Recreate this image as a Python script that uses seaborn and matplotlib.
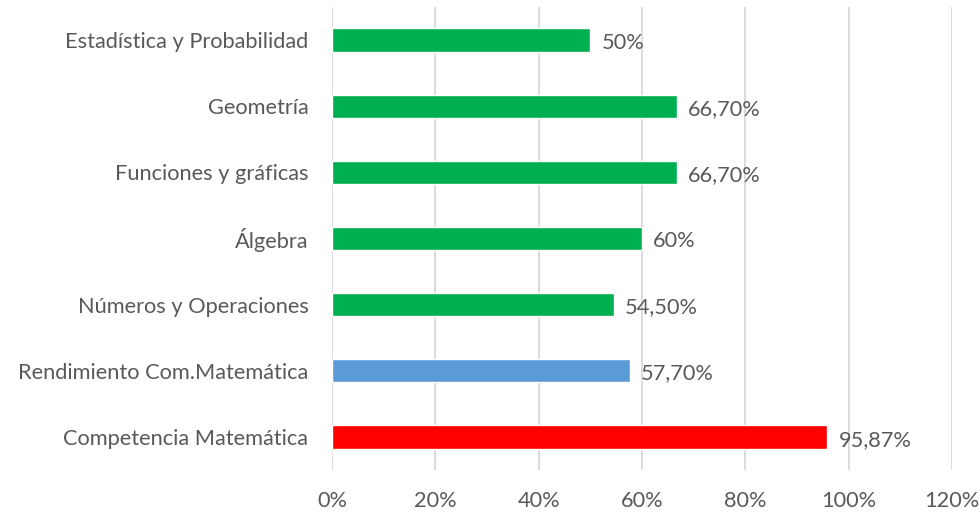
import matplotlib
matplotlib.use("Agg")
import matplotlib.pyplot as plt
import seaborn as sns
import pandas as pd
from matplotlib.ticker import FuncFormatter

# Data (top to bottom)
categories = [
    "Estadística y Probabilidad",
    "Geometría",
    "Funciones y gráficas",
    "Álgebra",
    "Números y Operaciones",
    "Rendimiento Com.Matemática",
    "Competencia Matemática",
]
values = [0.50, 0.667, 0.667, 0.60, 0.545, 0.577, 0.9587]
value_labels = ["50%", "66,70%", "66,70%", "60%", "54,50%", "57,70%", "95,87%"]
bar_colors = ["#00B050", "#00B050", "#00B050", "#00B050", "#00B050", "#5B9BD5", "#FF0000"]
x_ticks = [0, 0.2, 0.4, 0.6, 0.8, 1.0, 1.2]

sns.set_theme(style="white")
plt.rcParams["font.family"] = ["Lato", "DejaVu Sans"]
text_color = "#595959"

df = pd.DataFrame({"categoria": categories, "valor": values})

fig = plt.figure(figsize=(9.8, 5.13), dpi=100)
ax = fig.add_axes([0.3388, 0.0838, 0.6326, 0.9026])

sns.barplot(data=df, x="valor", y="categoria", hue="categoria",
            palette=dict(zip(categories, bar_colors)), legend=False,
            width=0.35, saturation=1, ax=ax)

ax.set_xlim(0, 1.2)
ax.set_xticks(x_ticks)
ax.xaxis.set_major_formatter(FuncFormatter(lambda v, p: f"{v*100:.0f}%"))
ax.grid(axis="x", color="#D9D9D9", linewidth=1.3)
ax.set_axisbelow(True)
for s in ax.spines.values():
    s.set_visible(False)
ax.tick_params(axis="both", length=0, colors=text_color, labelsize=15.7)
ax.tick_params(axis="x", pad=15)
ax.tick_params(axis="y", pad=17)
ax.set_xlabel("")
ax.set_ylabel("")

for i, (v, lab) in enumerate(zip(values, value_labels)):
    ax.annotate(lab, xy=(v, i), xytext=(8, -2), textcoords="offset points",
                va="center", ha="left", fontsize=15.7, color=text_color)

fig.savefig("out.png", dpi=100)
